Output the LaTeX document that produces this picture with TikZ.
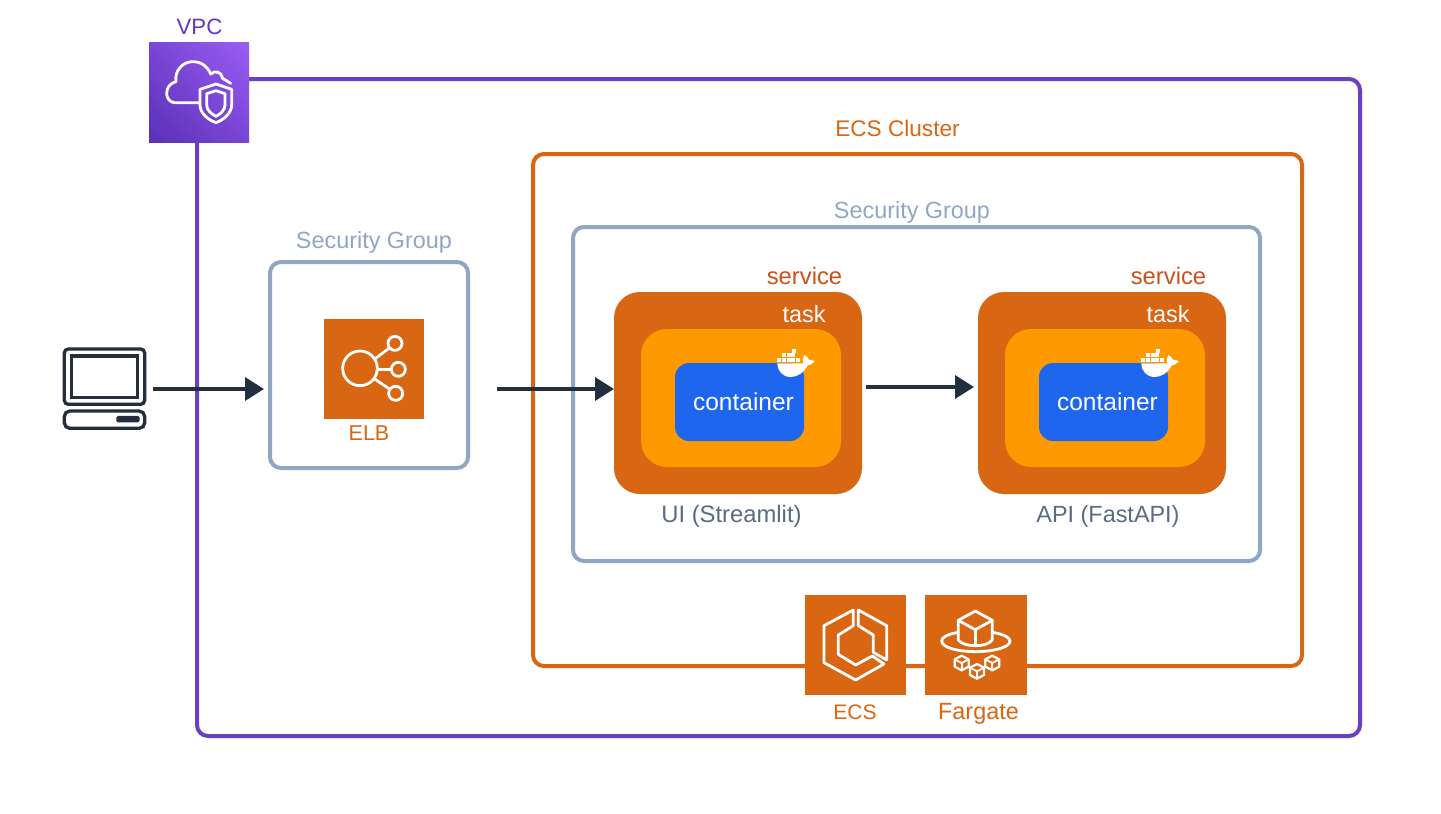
\documentclass[tikz,border=0pt]{standalone}
\usepackage{fontspec}
\setmainfont{Liberation Sans}
\usetikzlibrary{arrows.meta,shadings}
\definecolor{vpcC}{HTML}{6B3FC4}
\definecolor{vpcT}{HTML}{6238C0}
\definecolor{vpcLL}{HTML}{5A30B5}
\definecolor{vpcUR}{HTML}{9A5CF5}
\definecolor{vpcMid}{HTML}{7A46D5}
\definecolor{orangeC}{HTML}{D86613}
\definecolor{svcT}{HTML}{C9521C}
\definecolor{yellowC}{HTML}{FF9900}
\definecolor{blueC}{HTML}{1F66EE}
\definecolor{sgC}{HTML}{8FA7C4}
\definecolor{slateT}{HTML}{5A6B86}
\definecolor{darkC}{HTML}{232F3E}
\tikzset{
  region/.style={draw,fill=none,line width=4pt,inner sep=0pt,outer sep=0pt,rounded corners=11pt},
  solid box/.style={inner sep=0pt,outer sep=0pt,rounded corners=#1},
  icon box/.style={fill=orangeC,inner sep=0pt,outer sep=0pt,minimum width=101pt,minimum height=100pt},
  text label/.style={font=\fontsize{#1}{28}\selectfont,anchor=base,inner sep=0pt},
  text label/.default=23.4,
  flow/.style={draw=darkC,line width=3.5pt,-{Triangle[length=19pt,width=23pt]}},
  iconline/.style={draw=white,line width=2.8pt,line join=round,line cap=round},
  pics/whale/.style={code={
    \begin{scope}[x=0.3333pt,y=-0.3333pt]
      \fill[white] (112,85) -- (190,85) .. controls (187,76) and (188,68) .. (193,60) .. controls (200,64) and (206,70) .. (207,75) .. controls (213,73) and (219,75) .. (224,79) .. controls (217,87) and (209,91) .. (202,92) .. controls (193,113) and (172,126) .. (152,126) .. controls (128,126) and (112,108) .. (112,85) -- cycle;
      \foreach \x in {112,126,140,154,168} \fill[white] (\x,69) rectangle +(11.5,11.5);
      \foreach \x in {126,140,154} \fill[white] (\x,55) rectangle +(11.5,11.5);
      \fill[white] (155,41) rectangle +(12,11.5);
    \end{scope}}}
}
\begin{document}
\begin{tikzpicture}[x=1pt,y=-1pt]
\useasboundingbox (0,0) rectangle (1441,814);
\fill[white] (0,0) rectangle (1441,814);

% regions
\node[region,draw=vpcC,minimum width=1163pt,minimum height=657pt] (vpc) at (778.5,407.5) {};
\node[region,draw=orangeC,minimum width=769pt,minimum height=512pt] (cluster) at (917.5,410) {};
\node[region,draw=sgC,minimum width=687pt,minimum height=334pt] (sgb) at (916.5,394) {};
\node[region,draw=sgC,minimum width=198pt,minimum height=206pt] (sga) at (369,365) {};

% services
\node[solid box=26pt,fill=orangeC,minimum width=248pt,minimum height=202pt] (svca) at (738,393) {};
\node[solid box=26pt,fill=yellowC,minimum width=200pt,minimum height=138pt] (taska) at (741,398) {};
\node[solid box=14pt,fill=blueC,minimum width=129pt,minimum height=78pt] (conta) at (739.5,402) {};
\node[solid box=26pt,fill=orangeC,minimum width=248pt,minimum height=202pt] (svcb) at (1102,393) {};
\node[solid box=26pt,fill=yellowC,minimum width=200pt,minimum height=138pt] (taskb) at (1105,398) {};
\node[solid box=14pt,fill=blueC,minimum width=129pt,minimum height=78pt] (contb) at (1103.5,402) {};
\pic at (740,335) {whale};
\pic at (1104,335) {whale};

% VPC icon
\node[inner sep=0pt,outer sep=0pt,minimum size=100pt,shade,lower left=vpcLL,upper right=vpcUR,lower right=vpcMid,upper left=vpcMid] (vpcicon) at (199,92) {};
\begin{scope}[shift={(140,0)},x=0.3333pt,y=-0.3333pt]
  \draw[iconline] (176,308) -- (105,308) .. controls (90,308) and (80,295) .. (80,280) .. controls (80,262) and (92,248) .. (108,245) .. controls (103,210) and (130,185) .. (158,185) .. controls (185,185) and (203,200) .. (212,222) .. controls (225,210) and (245,215) .. (248,235) -- (272,250);
  \draw[iconline] (228,252) -- (180,268) -- (180,315) .. controls (180,340) and (205,360) .. (228,368) .. controls (250,360) and (275,340) .. (275,315) -- (275,268) -- cycle;
  \draw[iconline] (228,272) -- (200,281) -- (200,315) .. controls (200,330) and (215,343) .. (228,349) .. controls (241,343) and (255,330) .. (255,315) -- (255,281) -- cycle;
\end{scope}

% ELB icon
\node[icon box,minimum width=100pt] (elb) at (374,369) {};
\begin{scope}[shift={(315,310)},x=0.3333pt,y=-0.3333pt]
  \draw[iconline] (135,175) circle[radius=52];
  \draw[iconline] (240,100) circle[radius=21];
  \draw[iconline] (250,178) circle[radius=21];
  \draw[iconline] (242,250) circle[radius=21];
  \draw[iconline] (179,147) -- (222,115);
  \draw[iconline] (187,178) -- (228,178);
  \draw[iconline] (179,207) -- (222,236);
\end{scope}

% ECS icon
\node[icon box] (ecs) at (855.5,645) {};
\begin{scope}[shift={(795,585)},x=0.3333pt,y=-0.3333pt]
  \draw[iconline] (175,75) -- (87,122) -- (87,233) -- (182,285) -- (267,237) -- (232,213) -- (182,240) -- (130,208) -- (130,150) -- (175,122) -- cycle;
  \draw[iconline] (190,75) -- (275,122) -- (275,225) -- (235,202) -- (235,150) -- (190,122) -- cycle;
\end{scope}

% Fargate icon
\node[icon box,minimum width=102pt] (fargate) at (976,645) {};
\begin{scope}[shift={(795,585)},x=0.3333pt,y=-0.3333pt]
  \draw[iconline] (490,106) -- (541,78) -- (592,106) -- (592,165) .. controls (575,188) and (507,188) .. (490,165) -- cycle;
  \draw[iconline] (490,106) -- (541,134) -- (592,106);
  \draw[iconline] (541,134) -- (541,182);
  \draw[iconline] (490,142) .. controls (455,148) and (440,158) .. (440,168) .. controls (440,188) and (490,200) .. (541,200) .. controls (592,200) and (645,188) .. (645,168) .. controls (645,158) and (628,148) .. (592,142);
  \foreach \cx/\cy in {500/233,592/233,546/258} {
    \draw[iconline,line width=2.2pt] (\cx,\cy-21) -- (\cx+21,\cy-10) -- (\cx+21,\cy+12) -- (\cx,\cy+23) -- (\cx-21,\cy+12) -- (\cx-21,\cy-10) -- cycle;
    \draw[iconline,line width=1.8pt] (\cx-21,\cy-10) -- (\cx,\cy+1) -- (\cx+21,\cy-10);
    \draw[iconline,line width=1.8pt] (\cx,\cy+1) -- (\cx,\cy+23);
  }
\end{scope}

% client
\node[inner sep=0pt,outer sep=0pt,minimum width=83pt,minimum height=81pt] (client) at (104.5,389) {};
\begin{scope}[shift={(50,335)},x=0.3333pt,y=-0.3333pt]
  \draw[draw=darkC,line width=3.3pt,rounded corners=4pt] (43,42) rectangle (284,208);
  \draw[draw=darkC,line width=3.6pt] (64,63) rectangle (263,187);
  \draw[draw=darkC,line width=3.3pt,rounded corners=5.5pt] (43,228) rectangle (284,280);
  \fill[darkC,rounded corners=1.5pt] (199,243) rectangle (269,262);
\end{scope}

% connectors
\coordinate (fa) at (client.east |- 0,389);
\coordinate (fb) at (sga.west |- 0,389);
\coordinate (fc) at (sga.east |- 0,389);
\coordinate (fd) at (svca.west |- 0,389);
\coordinate (fe) at (svca.east |- 0,387);
\coordinate (ff) at (svcb.west |- 0,387);
\draw[flow,shorten <=7pt,shorten >=6pt] (fa) -- (fb);
\draw[flow,shorten <=29pt] (fc) -- (fd);
\draw[flow,shorten <=4pt,shorten >=4pt] (fe) -- (ff);

% labels
\node[text label=22.2,text=vpcT] (tvpc) at (199.5,34) {VPC};
\node[text label=22.6,text=orangeC] (tcl) at (897.5,136) {ECS Cluster};
\node[text label,text=sgC] (tsga) at (374,248) {Security Group};
\node[text label,text=sgC] (tsgb) at (912,218) {Security Group};
\node[text label=23.8,text=svcT] (tsa) at (804.5,284) {service};
\node[text label=23.8,text=svcT] (tsb) at (1168.5,284) {service};
\node[text label,text=white] (tta) at (804,322) {task};
\node[text label,text=white] (ttb) at (1168,322) {task};
\node[text label=24.5,text=white] (tca) at (743.5,410) {container};
\node[text label=24.5,text=white] (tcb) at (1107.5,410) {container};
\node[text label=23.8,text=slateT] (tui) at (731.5,522) {UI (Streamlit)};
\node[text label,text=slateT] (tapi) at (1108,522) {API (FastAPI)};
\node[text label=21.5,text=orangeC] (telb) at (369,440) {ELB};
\node[text label=21,text=orangeC] (tecs) at (855,719) {ECS};
\node[text label,text=orangeC] (tfg) at (978.5,719) {Fargate};
\end{tikzpicture}
\end{document}
